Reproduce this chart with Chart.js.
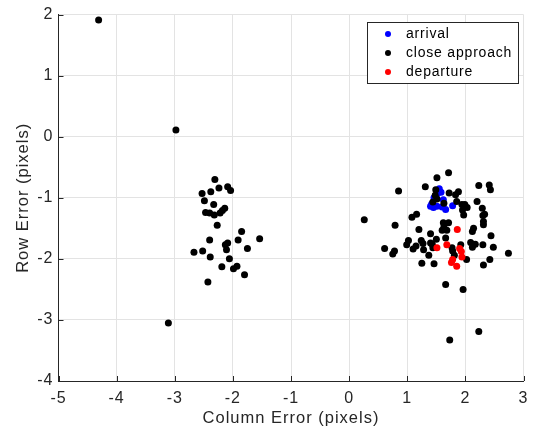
<!DOCTYPE html>
<html>
<head>
<meta charset="utf-8">
<script src="https://cdn.jsdelivr.net/npm/chart.js@4"></script>
<style>
  html, body { margin: 0; padding: 0; background: #fff; }
  #wrap { width: 536px; height: 432px; }
</style>
</head>
<body>
<div id="wrap"><canvas id="chart" width="536" height="432"></canvas></div>
<script>
// Data
const arrivalX = [1.55, 1.58, 1.52, 1.46, 1.42, 1.45, 1.51, 1.60, 1.66, 1.78, 1.40, 1.62];
const arrivalY = [-0.85, -0.91, -0.93, -1.00, -1.10, -1.16, -1.14, -1.15, -1.19, -1.13, -1.14, -1.03];

const closeX = [
  -4.31, -2.98, -3.11,
  -2.31, -2.53, -2.38, -2.24, -2.09, -2.04, -2.49, -2.33, -2.47, -2.40, -2.32, -2.22, -2.18, -2.14,
  -2.27, -1.85, -2.40, -1.91, -1.54, -2.09, -2.13, -2.11, -1.75, -2.52, -2.67, -2.39, -2.06, -2.19,
  -1.99, -1.93, -1.80, -2.43,
  1.71, 1.51, 1.31, 0.85, 2.23, 2.41, 2.43, 1.72, 1.88, 1.83, 1.49, 2.20, 1.85, 1.94, 1.99, 2.03,
  1.95, 2.29, 2.33, 2.30, 1.08, 1.16, 0.26, 0.79, 1.97, 2.31, 2.31, 1.62, 1.71, 1.63, 1.68, 1.60,
  1.20, 1.40, 2.14, 2.12, 2.44, 1.02, 0.99, 1.24, 1.27, 1.40, 1.50, 1.66, 1.44, 1.43, 1.15, 1.10,
  1.28, 1.37, 0.61, 0.78, 0.75, 1.92, 2.09, 2.12, 2.17, 2.30, 2.48, 1.77, 1.78, 1.81, 2.02, 2.42,
  2.74, 1.25, 1.46, 2.31, 1.66, 1.96, 1.48, 1.51, 1.44, 1.63, 1.73, 2.23
];
const closeY = [
  1.91, 0.11, -3.05,
  -0.70, -0.93, -0.90, -0.84, -0.82, -0.88, -1.05, -1.11, -1.24, -1.25, -1.28, -1.25, -1.21, -1.17,
  -1.45, -1.55, -1.69, -1.69, -1.67, -1.74, -1.77, -1.85, -1.83, -1.87, -1.89, -1.97, -2.00, -2.13,
  -2.16, -2.12, -2.26, -2.38,
  -0.59, -0.67, -0.82, -0.89, -0.80, -0.79, -0.87, -0.92, -0.90, -0.95, -0.87, -1.06, -1.06, -1.11, -1.11, -1.16,
  -1.20, -1.17, -1.27, -1.29, -1.32, -1.27, -1.36, -1.45, -1.28, -1.39, -1.44, -1.41, -1.41, -1.48, -1.53, -1.53,
  -1.52, -1.59, -1.50, -1.55, -1.62, -1.70, -1.77, -1.70, -1.75, -1.74, -1.68, -1.66, -1.82, -1.76, -1.79, -1.84,
  -1.85, -1.94, -1.83, -1.87, -1.92, -1.77, -1.73, -1.81, -1.76, -1.77, -1.81, -1.82, -1.87, -1.94, -2.01, -2.01,
  -1.91, -2.07, -2.08, -2.10, -2.42, -2.50, -0.96, -1.02, -1.07, -1.09, -3.33, -3.19
];

const departureX = [1.86, 1.68, 1.51, 1.90, 1.93, 1.94, 1.78, 1.76, 1.85];
const departureY = [-1.52, -1.77, -1.82, -1.83, -1.88, -1.97, -2.01, -2.06, -2.12];

const xTicks = [-5, -4, -3, -2, -1, 0, 1, 2, 3];
const yTicks = [-4, -3, -2, -1, 0, 1, 2];

function toPoints(xs, ys) {
  return xs.map((x, i) => ({ x: x, y: ys[i] }));
}

const axisColor = '#262626';
const gridColor = '#e3e3e3';
const fontFamily = '"Liberation Sans", Arial, Helvetica, sans-serif';

// a little extra letter spacing, the reference text runs wider than Arial
const spacing = {
  id: 'spacing',
  beforeDraw(chart) {
    chart.ctx.letterSpacing = '1px';
  }
};

// MATLAB style ticks pointing into the plot
const innerTicks = {
  id: 'innerTicks',
  afterDatasetsDraw(chart) {
    const ctx = chart.ctx;
    const xs = chart.scales.x, ys = chart.scales.y;
    const area = chart.chartArea;
    ctx.save();
    ctx.strokeStyle = axisColor;
    ctx.lineWidth = 1;
    ctx.beginPath();
    xTicks.forEach(v => {
      const px = Math.round(xs.getPixelForValue(v)) + 0.5;
      ctx.moveTo(px, area.bottom);
      ctx.lineTo(px, area.bottom - 5);
    });
    yTicks.forEach(v => {
      const py = Math.round(ys.getPixelForValue(v)) + 0.5;
      ctx.moveTo(area.left, py);
      ctx.lineTo(area.left + 5, py);
    });
    ctx.stroke();
    ctx.restore();
  }
};

// Legend box in the top right corner
const boxLegend = {
  id: 'boxLegend',
  afterDraw(chart) {
    const ctx = chart.ctx;
    const left = 367.5, top = 22.5, w = 151, h = 61;
    ctx.save();
    ctx.fillStyle = '#fff';
    ctx.fillRect(left, top, w, h);
    ctx.strokeStyle = axisColor;
    ctx.lineWidth = 1;
    ctx.strokeRect(left, top, w, h);
    ctx.font = '14px ' + fontFamily;
    ctx.letterSpacing = '0.8px';
    ctx.textBaseline = 'middle';
    chart.data.datasets.forEach((ds, i) => {
      const cy = top + 11.5 + i * 19;
      ctx.fillStyle = ds.backgroundColor;
      ctx.beginPath();
      ctx.arc(388, cy, 3, 0, Math.PI * 2);
      ctx.fill();
      ctx.fillStyle = '#000';
      ctx.fillText(ds.label, 406, cy);
    });
    ctx.restore();
  }
};

new Chart(document.getElementById('chart'), {
  type: 'scatter',
  data: {
    datasets: [
      { label: 'arrival', data: toPoints(arrivalX, arrivalY), backgroundColor: '#0000ff', borderColor: '#0000ff', order: 3 },
      { label: 'close approach', data: toPoints(closeX, closeY), backgroundColor: '#000000', borderColor: '#000000', order: 2 },
      { label: 'departure', data: toPoints(departureX, departureY), backgroundColor: '#ff0000', borderColor: '#ff0000', order: 1 }
    ]
  },
  options: {
    responsive: false,
    animation: false,
    layout: { padding: { top: 13, right: 9, left: 0, bottom: 0 } },
    elements: { point: { radius: 3.5, borderWidth: 0, hoverRadius: 3.5 } },
    plugins: { legend: { display: false }, tooltip: { enabled: false } },
    scales: {
      x: {
        type: 'linear', min: -5, max: 3,
        afterBuildTicks(scale) { scale.ticks = xTicks.map(v => ({ value: v })); },
        afterFit(scale) { scale.height = 51; },
        grid: { color: gridColor, drawTicks: false },
        border: { display: true, color: axisColor },
        ticks: { color: axisColor, padding: 8, font: { size: 16, family: fontFamily } },
        title: { display: true, text: 'Column Error (pixels)', color: axisColor, padding: { top: 1, bottom: 4 }, font: { size: 16.5, family: fontFamily } }
      },
      y: {
        type: 'linear', min: -4, max: 2,
        afterBuildTicks(scale) { scale.ticks = yTicks.map(v => ({ value: v })); },
        afterFit(scale) { scale.width = 58.5; },
        grid: { color: gridColor, drawTicks: false },
        border: { display: true, color: axisColor },
        ticks: { color: axisColor, padding: 5, font: { size: 16, family: fontFamily } },
        title: { display: true, text: 'Row Error (pixels)', color: axisColor, padding: { top: 14, bottom: 0 }, font: { size: 16.5, family: fontFamily } }
      }
    }
  },
  plugins: [spacing, innerTicks, boxLegend]
});
</script>
</body>
</html>
